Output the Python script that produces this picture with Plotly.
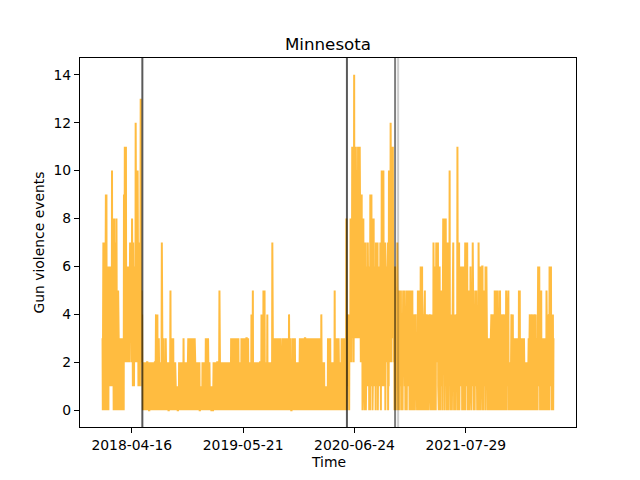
import pandas as pd
import plotly.graph_objects as go

# Daily gun violence event counts for Minnesota, starting 2018-01-01.
# One character per day (hex digit: a=10, b=11, c=12, d=13, e=14), grouped by week.
start_date = "2018-01-01"
counts_early_2018 = ("3047205 1703692 9042615 0631512 624131a 1582603 8170352 0841530 5031203 0230130 "
                     "3020310 914b326 b263352 6243625 3735462 3825172 7152632 c25a362 a371524 7135d26 5241201")
counts_mid_2018_to_may_2020 = (
    "1020120 0210102 2011020 0120201 1201021 0102102 2014031 0410203 2010120 1027010 "
    "2030102 0213020 1020210 0201025 1203010 0130201 1020101 0101001 1020120 0201021 "
    "1020310 2010201 0120102 3012031 0320103 2031012 1030210 0120201 2010120 0101010 "
    "1020120 0201201 3012031 0320102 1001010 0101001 2010201 1202112 2101202 5020120 "
    "1020201 0210120 2011020 0120201 1201021 3012031 0320103 1020130 3012031 0120201 "
    "1030210 2031012 0320103 3012031 0120201 2014030 1502010 1212012 1020121 0210102 "
    "2130412 0130520 2510121 1201402 1020120 0201021 1702010 3012031 0320103 2031012 "
    "1030210 0213020 3012031 0320103 2031042 1030210 0213020 3012031 0120201 2010120 "
    "1030210 2031012 0320103 3012031 0213020 1030210 2031012 0320103 3012031 0213020 "
    "1030210 2041012 0210120 1010101 0101030 2031013 0210120 2010201 0501201 3012031 "
    "0320102 1020130 3012031 0320103")
counts_summer_fall_2020 = (
    "2805341 3142043 4283526 5b3a462 6e49573 b574a36 4b63853 b496283 9270518 2847063 "
    "7052643 1736250 3609271 9384062 2816354 6072531 4702635 1653720 62a4153 3a51726 "
    "7042653 2637041 a35264c 4c27b35 b536240 3625041 5173604")
counts_late_2020_to_2022 = (
    "4052315 2503142 0354251 5140325 3052413 1453025 4205314 5032140 2401342 1320305 "
    "3504152 2063514 6031420 3415042 0342140 2403142 1240314 3041207 2705364 0473526 "
    "3715062 6305241 3250418 2638057 4813502 2750316 3a24031 2403147 7140324 1304241 "
    "2b40536 7053624 1635062 4260517 3704625 1725043 5031426 2604153 7253041 0352415 "
    "2503140 7250316 5031246 6204153 3150642 6231032 1302031 2031420 3140241 2053140 "
    "4150325 2031052 5230412 1403240 2041304 1503421 4150201 2010124 3041402 1320130 "
    "3012031 1203052 3502130 0312032 2031201 1020120 2010231 0341204 2403140 1042304 "
    "3140213 2304613 3615042 2503120 1302031 0231205 2514031 2406135 3614021 2403")

event_dates = ["2018-05-24", "2020-05-28", "2020-11-17", "2020-11-28"]
event_alphas = [0.65, 0.65, 0.5, 0.2]

tick_dates = ["2018-04-16", "2019-05-21", "2020-06-24", "2021-07-29"]
y_ticks = [0, 2, 4, 6, 8, 10, 12, 14]

code = "".join([counts_early_2018, counts_mid_2018_to_may_2020,
                counts_summer_fall_2020, counts_late_2020_to_2022]).replace(" ", "")
values = [int(c, 16) for c in code]
dates = pd.date_range(start_date, periods=len(values), freq="D")

span = dates[-1] - dates[0]
x_range = [dates[0] - span * 0.05, dates[-1] + span * 0.05]
vmin, vmax = min(values), max(values)
y_range = [vmin - 0.05 * (vmax - vmin), vmax + 0.05 * (vmax - vmin)]

font = "DejaVu Sans"
fig = go.Figure()
fig.add_trace(go.Scatter(x=dates, y=values, mode="lines",
                         line=dict(color="rgba(255,165,0,0.75)", width=2),
                         showlegend=False, hoverinfo="skip"))

for d, a in zip(event_dates, event_alphas):
    fig.add_shape(type="line", xref="x", yref="paper", x0=d, x1=d, y0=0, y1=1,
                  line=dict(color=f"rgba(0,0,0,{a})", width=2))

axis_common = dict(showline=True, mirror=True, linecolor="black", linewidth=1.1,
                   ticks="outside", ticklen=5, tickwidth=1.1, tickcolor="black",
                   showgrid=False, zeroline=False,
                   tickfont=dict(family=font, size=13.9, color="black"))

fig.update_layout(
    width=640, height=480,
    margin=dict(l=72, r=72, t=50, b=61),
    paper_bgcolor="white", plot_bgcolor="white",
    title=dict(text="Minnesota", x=0.5, xref="paper", xanchor="center",
               y=1 - 36 / 480, yref="container", yanchor="middle",
               font=dict(family=font, size=16.7, color="black")),
    xaxis=dict(range=x_range, type="date", tickmode="array",
               tickvals=tick_dates, ticktext=tick_dates, **axis_common),
    yaxis=dict(range=y_range, tickmode="array", tickvals=y_ticks, **axis_common),
    annotations=[
        dict(text="Time", x=0.5, xref="paper", y=(427 - 462) / 369, yref="paper",
             showarrow=False, xanchor="center", yanchor="middle",
             font=dict(family=font, size=13.9, color="black")),
        dict(text="Gun violence events", x=(38 - 80) / 496, xref="paper", y=0.5, yref="paper",
             showarrow=False, xanchor="center", yanchor="middle", textangle=-90,
             font=dict(family=font, size=13.9, color="black")),
    ],
)

fig.write_html("out.html")
